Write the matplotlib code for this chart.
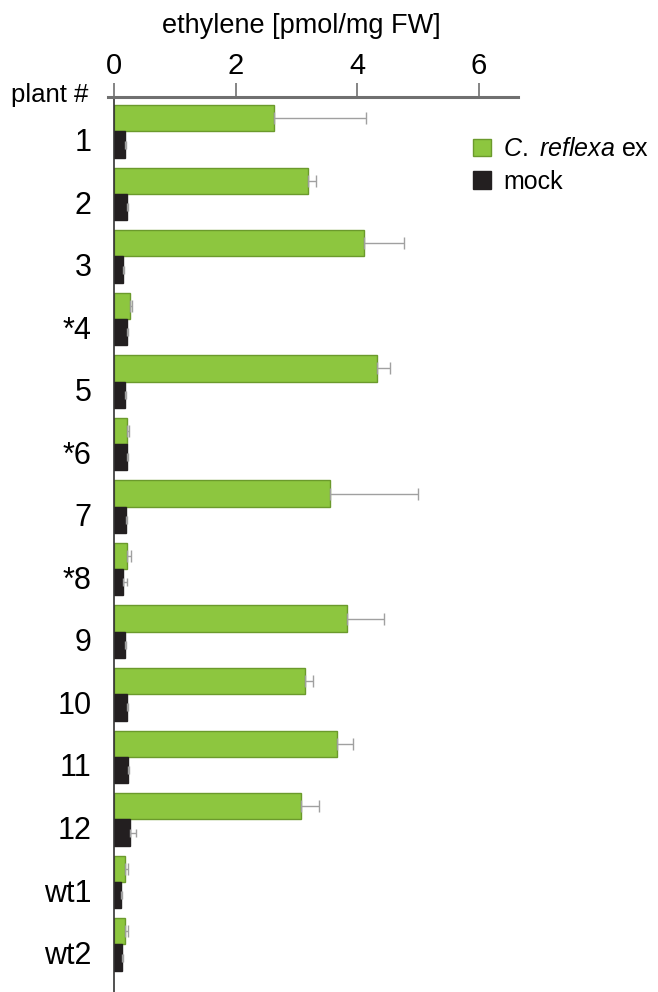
import matplotlib.pyplot as plt
import numpy as np
from matplotlib.patches import Patch

plt.rcParams['font.family'] = ['Liberation Sans', 'DejaVu Sans']
plt.rcParams['mathtext.fontset'] = 'custom'
plt.rcParams['mathtext.it'] = 'Liberation Sans:italic'
plt.rcParams['mathtext.rm'] = 'Liberation Sans'

# ethylene per plant line
plants = ["1", "2", "3", "*4", "5", "*6", "7", "*8", "9", "10", "11", "12", "wt1", "wt2"]
cref = [2.64, 3.20, 4.12, 0.27, 4.33, 0.22, 3.55, 0.22, 3.83, 3.14, 3.67, 3.08, 0.18, 0.18]
cref_err = [1.50, 0.12, 0.66, 0.03, 0.22, 0.02, 1.45, 0.06, 0.62, 0.13, 0.26, 0.29, 0.05, 0.05]
mock = [0.18, 0.21, 0.14, 0.21, 0.18, 0.21, 0.19, 0.15, 0.18, 0.21, 0.23, 0.27, 0.11, 0.13]
mock_err = [0.02, 0.02, 0.02, 0.02, 0.02, 0.02, 0.02, 0.07, 0.02, 0.02, 0.02, 0.10, 0.02, 0.02]

green = "#8dc63f"
black = "#231f20"

fig = plt.figure(figsize=(6.58, 9.92), dpi=100)
ax = fig.add_axes([114/658, 0.0, (518-114)/658, 1 - 97/992])

y = np.arange(len(plants))
h = 0.42
ax.barh(y - h/2, cref, height=h, color=green, edgecolor="#6b9a2c", linewidth=1,
        xerr=[np.zeros(len(cref)), cref_err], error_kw=dict(ecolor="#a0a0a0", lw=1, capsize=4, capthick=1))
ax.barh(y + h/2, mock, height=h, color=black, edgecolor=black, linewidth=1,
        xerr=[np.zeros(len(mock)), mock_err], error_kw=dict(ecolor="#a0a0a0", lw=1, capsize=3, capthick=1))

ax.set_xlim(0, 6.65)
ax.set_ylim(len(plants) - 0.24, -0.55)

ax.xaxis.tick_top()
ax.set_xticks([0, 2, 4, 6])
ax.tick_params(axis="x", direction="out", length=10, width=1.2, color="#707070",
               labelsize=21, pad=2)
fig.text(301/658, 1 - 26/992, "ethylene [pmol/mg FW]", fontsize=19.5, ha="center", va="center")

ax.set_yticks(y + 0.13)
ax.set_yticklabels(plants)
ax.tick_params(axis="y", length=0, labelsize=22, pad=16)

for s in ["right", "bottom"]:
    ax.spines[s].set_visible(False)
ax.spines["top"].set_color("#707070")
ax.spines["top"].set_linewidth(2.2)
ax.spines["top"].set_bounds(-0.1, 6.65)
ax.spines["left"].set_color("#333333")
ax.spines["left"].set_linewidth(1.2)

fig.text(11/658, 1 - 95/992, "plant #", fontsize=18.5, va="center", ha="left")

handles = [Patch(facecolor=green, edgecolor="#6b9a2c"), Patch(facecolor=black, edgecolor=black)]
fig.legend(handles, [r"$\it{C.\ reflexa}$ ex", "mock"], loc="upper left",
           bbox_to_anchor=(473/658, 1 - 137/992), frameon=False, fontsize=18,
           handlelength=0.7, handleheight=0.7, handletextpad=0.5, labelspacing=0.35,
           borderaxespad=0, borderpad=0)

plt.savefig("out.png", dpi=100)
